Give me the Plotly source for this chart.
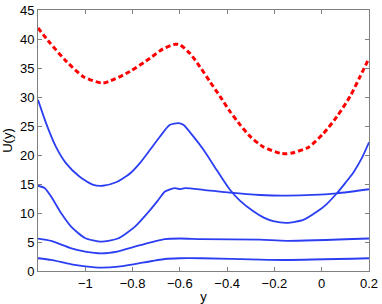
import plotly.graph_objects as go

# Red dashed curve
red_x = [-1.2, -1.149, -1.079, -1.008, -0.925, -0.811, -0.726, -0.671, -0.62, -0.599, -0.557,
         -0.515, -0.472, -0.430, -0.388, -0.345, -0.303, -0.247, -0.176, -0.148, -0.120, -0.057,
         0.007, 0.064, 0.120, 0.162, 0.2]
red_y = [41.9, 39.3, 36.1, 33.5, 32.4, 34.4, 36.7, 38.3, 39.1, 39.0, 37.5,
         35.2, 32.6, 30.1, 27.5, 25.2, 23.2, 21.4, 20.3, 20.2, 20.4, 21.3,
         23.7, 26.6, 30.1, 33.5, 36.7]

# Blue curve 1 (top)
b1_x = [-1.2, -1.166, -1.124, -1.082, -1.025, -0.969, -0.926, -0.87, -0.811, -0.769, -0.726,
        -0.684, -0.642, -0.607, -0.585, -0.543, -0.5, -0.444, -0.388, -0.345, -0.289, -0.245,
        -0.205, -0.148, -0.078, -0.021, 0.02, 0.064, 0.1, 0.134, 0.17, 0.2]
b1_y = [29.5, 25.5, 21.4, 18.6, 16.3, 14.9, 14.7, 15.3, 16.8, 18.6, 20.9,
        23.2, 25.2, 25.5, 25.2, 23.2, 20.9, 17.4, 14.0, 12.1, 10.3, 9.2,
        8.6, 8.3, 8.8, 10.2, 11.5, 13.4, 15.2, 17.0, 19.5, 22.2]

# Blue curve 2
b2_x = [-1.2, -1.172, -1.144, -1.101, -1.059, -1.002, -0.932, -0.862, -0.791, -0.726, -0.692,
        -0.663, -0.62, -0.6, -0.578, -0.5, -0.388, -0.261, -0.148, 0.064, 0.2]
b2_y = [14.7, 14.3, 12.8, 9.9, 7.6, 5.7, 5.05, 5.6, 7.6, 10.5, 12.2,
        13.7, 14.3, 14.1, 14.3, 14.0, 13.5, 13.1, 13.0, 13.4, 14.1]

# Blue curve 3
b3_x = [-1.2, -1.144, -1.059, -1.0, -0.932, -0.86, -0.791, -0.664, -0.6, -0.509, -0.261, -0.148, 0.2]
b3_y = [5.6, 5.2, 3.9, 3.35, 3.05, 3.4, 4.2, 5.5, 5.6, 5.5, 5.4, 5.2, 5.6]

# Blue curve 4
b4_x = [-1.2, -1.144, -1.059, -1.0, -0.932, -0.86, -0.791, -0.664, -0.6, -0.509, -0.261, -0.148, 0.2]
b4_y = [2.2, 1.9, 1.15, 0.8, 0.57, 0.75, 1.2, 2.07, 2.2, 2.2, 1.95, 1.9, 2.2]

x_ticks = [-1, -0.8, -0.6, -0.4, -0.2, 0, 0.2]
x_tick_text = ["\u22121", "\u22120.8", "\u22120.6", "\u22120.4", "\u22120.2", "0", "0.2"]
y_ticks = [0, 5, 10, 15, 20, 25, 30, 35, 40, 45]

BLUE = "#2b3ef2"
RED = "#ff0000"

fig = go.Figure()
for xs, ys in [(b1_x, b1_y), (b2_x, b2_y), (b3_x, b3_y), (b4_x, b4_y)]:
    fig.add_trace(go.Scatter(x=xs, y=ys, mode="lines",
                             line=dict(color=BLUE, width=1.8, shape="spline", smoothing=0.6),
                             showlegend=False, hoverinfo="skip"))
fig.add_trace(go.Scatter(x=red_x, y=red_y, mode="lines",
                         line=dict(color=RED, width=3, dash="5px,3px", shape="spline", smoothing=0.6),
                         showlegend=False, hoverinfo="skip"))

axis_common = dict(showline=True, linecolor="#808080", linewidth=1, mirror="ticks",
                   ticks="inside", ticklen=4, tickcolor="#808080", showgrid=False,
                   zeroline=False, automargin=False, tickfont=dict(size=13, color="#000000"))

fig.update_layout(
    width=382, height=304,
    margin=dict(l=38, r=13, t=10, b=33),
    paper_bgcolor="white", plot_bgcolor="white",
    font=dict(family="Liberation Sans, Arial, sans-serif", size=13, color="#000000"),
    xaxis=dict(range=[-1.2, 0.2], tickvals=x_ticks, ticktext=x_tick_text,
               title=dict(text="y", font=dict(size=13)), **axis_common),
    yaxis=dict(range=[0, 45], tickvals=y_ticks,
               title=dict(text="U(y)", font=dict(size=13)), **axis_common),
)

fig.write_html("out.html", config={"displayModeBar": False, "staticPlot": True},
               post_script="document.body.style.margin='0';document.body.style.overflow='hidden';")
